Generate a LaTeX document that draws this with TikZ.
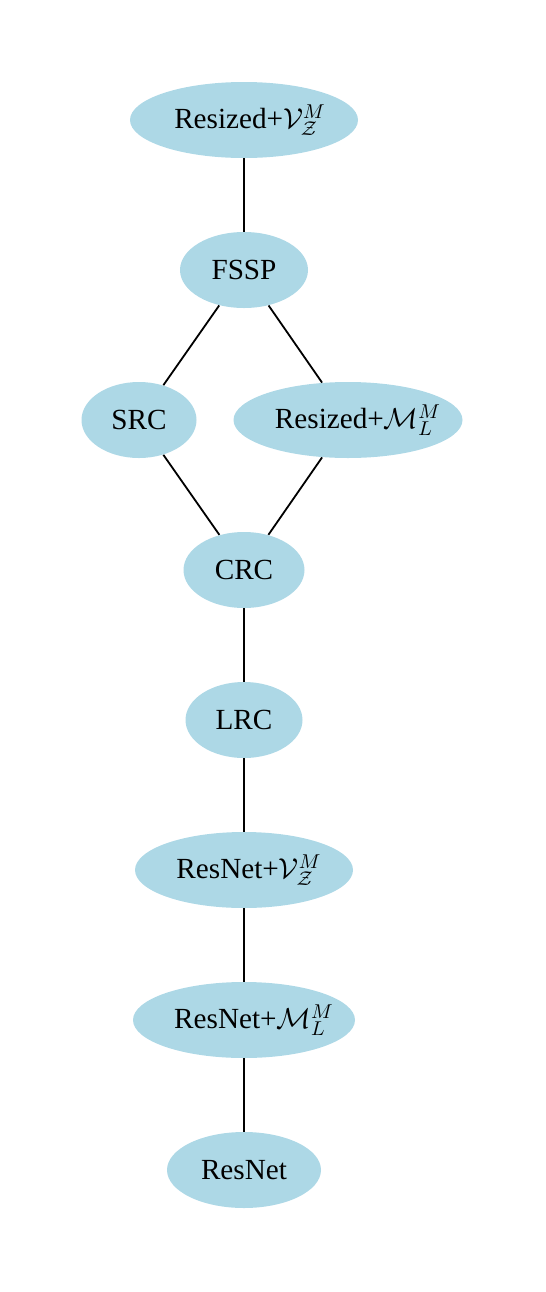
\documentclass[tikz,border=0pt]{standalone}
\usepackage{fontspec}
\setmainfont{Liberation Serif}
\usetikzlibrary{shapes.geometric}
\definecolor{nodeblue}{HTML}{ADD8E6}
\tikzset{
  gnode/.style={ellipse, fill=nodeblue, inner sep=0pt, minimum height=38pt, font=\fontsize{14.6}{17}\selectfont},
  gtext/.style={inner sep=0pt, font=\fontsize{14.6}{17}\selectfont},
  gedge/.style={line width=0.9pt, black}
}
\begin{document}
\begin{tikzpicture}[x=0.5pt,y=-0.5pt]
\useasboundingbox (0,0) rectangle (546,1292);
\node[gnode, minimum width=114pt] (rv) at (244,120) {};
\node[gtext] (rvt) at ([xshift=3pt]rv.center) {Resized+$\mathcal{V}_{\mathcal{Z}}^{M}$};
\node[gnode, minimum width=64pt] (fssp) at (244,270) {FSSP};
\node[gnode, minimum width=57.5pt] (src) at (139,420) {SRC};
\node[gnode, minimum width=114.5pt] (rm) at (348,420) {};
\node[gtext] (rmt) at ([xshift=5pt]rm.center) {Resized+$\mathcal{M}_{L}^{M}$};
\node[gnode, minimum width=60.5pt] (crc) at (244,570) {CRC};
\node[gnode, minimum width=58.5pt] (lrc) at (244,720) {LRC};
\node[gnode, minimum width=109pt] (nv) at (244,870) {};
\node[gtext] (nvt) at ([xshift=2.5pt]nv.center) {ResNet+$\mathcal{V}_{\mathcal{Z}}^{M}$};
\node[gnode, minimum width=111pt] (nm) at (244,1020) {};
\node[gtext] (nmt) at ([xshift=5pt]nm.center) {ResNet+$\mathcal{M}_{L}^{M}$};
\node[gnode, minimum width=77pt] (rn) at (244,1170) {ResNet};
\draw[gedge] (rv) -- (fssp);
\draw[gedge] (fssp) -- (src);
\draw[gedge] (fssp) -- (rm);
\draw[gedge] (src) -- (crc);
\draw[gedge] (rm) -- (crc);
\draw[gedge] (crc) -- (lrc);
\draw[gedge] (lrc) -- (nv);
\draw[gedge] (nv) -- (nm);
\draw[gedge] (nm) -- (rn);
\end{tikzpicture}
\end{document}
